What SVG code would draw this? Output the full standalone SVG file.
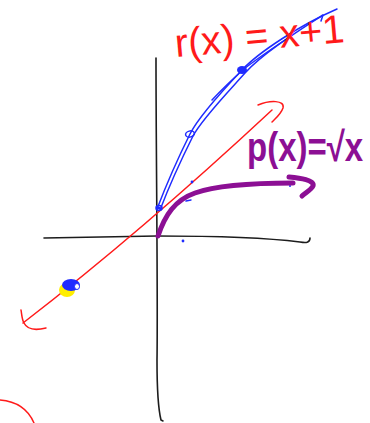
<svg xmlns="http://www.w3.org/2000/svg" width="370" height="423" viewBox="0 0 370 423">
<style>
.ax{fill:none;stroke:#1c1c1c;stroke-width:1.6;stroke-linecap:round;stroke-linejoin:round}
.red{fill:none;stroke:#ff1a1a;stroke-width:1.5;stroke-linecap:round;stroke-linejoin:round}
.blue{fill:none;stroke:#1f2bff;stroke-width:1.5;stroke-linecap:round;stroke-linejoin:round}
.bluef{fill:#1f2bff}
.pur{fill:none;stroke:#8c0f94;stroke-width:5;stroke-linecap:round;stroke-linejoin:round}
.rt{font-family:"Liberation Sans",Arial,sans-serif;fill:#ff1a1a}
.pt{font-family:"Liberation Sans",Arial,sans-serif;fill:#8c0f94;font-weight:bold}
</style>
<rect width="370" height="423" fill="#ffffff"/>
<g id="axes">
<path class="ax" d="M156,58 C156,150 158,300 157,360 C157,395 159,412 161,420 L163,421"/>
<path class="ax" d="M44,238 L157,236 C200,236 260,237 300,242 C306,243 310,243 310,238"/>
</g>
<g id="line-r">
<path class="red" d="M23,323 Q140,233 272,110"/>
<path class="red" d="M258,105 C270,100 285,100 283,108 C281,114 276,118 272,122"/>
<path class="red" d="M21,310 C22,316 22,320 24,323 C28,331 38,330 46,328"/>
</g>
<g id="arc-bottom-left">
<path class="red" d="M0,400 Q25,402 34,423"/>
</g>
<g id="curve-blue">
<path class="blue" d="M157,209 C170,175 182,150 190,134 S225,88 242,70 S300,25 337,9"/>
<path class="blue" d="M160,210 C173,176 185,152 193,136 S228,92 245,73 S295,33 323,15 L321,21"/>
<path class="blue" stroke-width="3" d="M212,100 C225,86 235,77 244,69 C258,58 270,50 285,40"/>
<ellipse class="bluef" cx="242" cy="70" rx="5" ry="4"/>
<ellipse class="blue" cx="190" cy="134" rx="4.5" ry="3" transform="rotate(-15 190 134)"/>
<ellipse class="blue" cx="159" cy="208" rx="3" ry="2.5"/>
<circle class="bluef" cx="159" cy="208" r="1.5"/>
</g>
<g id="dots-blue">
<circle class="bluef" cx="192" cy="182" r="1.4"/>
<path class="blue" d="M186,201 L191,200"/>
<circle class="bluef" cx="233" cy="186" r="1"/>
<circle class="bluef" cx="290" cy="186" r="1"/>
<circle class="bluef" cx="183" cy="241" r="1.4"/>
</g>
<g id="point-yellow">
<ellipse cx="67" cy="290" rx="8" ry="7" fill="#ffee00"/>
<ellipse class="bluef" cx="71" cy="285" rx="9" ry="6"/>
<ellipse cx="77" cy="286.5" rx="2.5" ry="3" fill="#ffffff" stroke="#1f2bff" stroke-width="1"/>
</g>
<g id="curve-p">
<path class="pur" d="M158,236 C165,215 175,200 195,193 C220,184 260,183 293,183"/>
<path class="pur" d="M289,177 C300,178 315,180 313,186 C311,190 305,193 302,196"/>
</g>
<g id="label-r">
<text class="rt" x="176" y="57" font-size="40" textLength="170" lengthAdjust="spacingAndGlyphs" transform="rotate(-5 176 57)">r(x) = x+1</text>
</g>
<g id="label-p">
<text class="pt" x="0" y="0" font-size="33" transform="translate(247 161) scale(1 1.25)">p(x)=√x</text>
</g>
</svg>
